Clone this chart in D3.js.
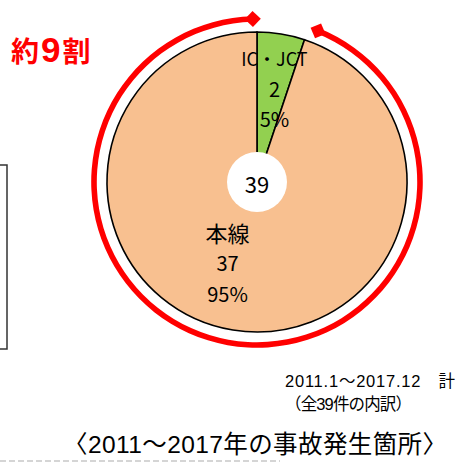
<!DOCTYPE html>
<html>
<head>
<meta charset="utf-8">
<script src="https://cdn.jsdelivr.net/npm/d3@7"></script>
<style>
  body { margin: 0; background: #fff; }
  svg { display: block; }
</style>
</head>
<body>
<div id="chart"></div>
<script>
// data
const categories = ['IC・JCT', '本線'];
const counts = [2, 37];
const percentLabels = ['5%', '95%'];
const total = 39;
const headlineParts = ['約', '9', '割'];
const noteLines = ['2011.1～2017.12\u3000計', '（全39件の内訳）'];
const title = '〈2011～2017年の事故発生箇所〉';

const colors = ['#92d050', '#f8c090'];

const width = 462, height = 462;
const cx = 257, cy = 182, radius = 150;

const svg = d3.select('#chart')
  .append('svg')
  .attr('width', width)
  .attr('height', height);

// box on the left edge (cut off)
svg.append('rect')
  .attr('x', -10).attr('y', 165)
  .attr('width', 17).attr('height', 184)
  .attr('fill', 'none')
  .attr('stroke', '#333')
  .attr('stroke-width', 1.5);

const ctr = svg.append('g')
  .attr('transform', `translate(${cx}, ${cy})`);

const pie = d3.pie().sort(null).value(d => d);
const arcs = pie(counts);

const arc = d3.arc().innerRadius(0).outerRadius(radius);

ctr.selectAll('path.slice')
  .data(arcs)
  .join('path')
  .attr('class', 'slice')
  .attr('d', arc)
  .attr('fill', (d, i) => colors[i])
  .attr('stroke', '#000')
  .attr('stroke-width', 1.6);

// red bracket arc around the main slice
const deg = Math.PI / 180;
const bracketStart = 22 * deg, bracketEnd = 358.5 * deg;
const bracketR = 163;
ctr.append('path')
  .attr('d', d3.arc()
    .innerRadius(bracketR - 2.8)
    .outerRadius(bracketR + 2.8)
    .startAngle(bracketStart)
    .endAngle(bracketEnd)())
  .attr('fill', '#ff0000');

[bracketStart, bracketEnd].forEach(a => {
  const x = bracketR * Math.sin(a), y = -bracketR * Math.cos(a);
  ctr.append('path')
    .attr('d', d3.symbol(d3.symbolSquare, 130)())
    .attr('transform', `translate(${x}, ${y}) rotate(${a / deg + 45})`)
    .attr('fill', '#ff0000');
});

// center hole
ctr.append('circle')
  .attr('cx', 0).attr('cy', 0).attr('r', 30)
  .attr('fill', '#fff');

ctr.append('text')
  .attr('x', 0).attr('y', 1)
  .attr('text-anchor', 'middle')
  .attr('dominant-baseline', 'central')
  .attr('font-family', '"Noto Sans CJK JP", sans-serif')
  .attr('font-size', 22)
  .text(total);

// slice labels
const labelArc = d3.arc().innerRadius(90).outerRadius(90);
const labelShift = [[3, -5], [-15, -8]];
const labels = ctr.selectAll('g.label')
  .data(arcs)
  .join('g')
  .attr('class', 'label')
  .attr('transform', (d, i) => {
    const [x, y] = labelArc.centroid(d);
    return `translate(${x + labelShift[i][0]}, ${y + labelShift[i][1]})`;
  });

labels.each(function(d, i) {
  const g = d3.select(this);
  const lines = [categories[i], counts[i], percentLabels[i]];
  g.selectAll('text')
    .data(lines)
    .join('text')
    .attr('x', 0)
    .attr('y', (t, j) => (j - 1) * 30.5)
    .attr('text-anchor', 'middle')
    .attr('dominant-baseline', 'central')
    .attr('font-family', '"Noto Sans CJK JP", sans-serif')
    .attr('font-size', (t, j) => j === 0 ? (i === 1 ? 22 : 18) : 20)
    .attr('fill', '#000')
    .text(t => t);
});

// headline
const head = svg.append('text')
  .attr('x', 11).attr('y', 62)
  .attr('font-weight', 'bold')
  .attr('fill', '#ff0000');
head.selectAll('tspan')
  .data(headlineParts)
  .join('tspan')
  .attr('dx', (d, i) => i === 0 ? 0 : 2)
  .attr('font-family', (d, i) => i === 1
    ? '"Liberation Sans", sans-serif'
    : '"Noto Sans CJK JP", sans-serif')
  .attr('font-size', (d, i) => i === 1 ? 35 : 28)
  .text(d => d);

// note
const noteWidths = [170, 127];
svg.selectAll('text.note')
  .data(noteLines)
  .join('text')
  .attr('class', 'note')
  .attr('x', 285)
  .attr('y', (d, i) => 387 + i * 23)
  .attr('font-family', '"Liberation Sans", "Noto Sans CJK JP", sans-serif')
  .attr('font-size', 16.5)
  .attr('fill', '#000')
  .attr('textLength', (d, i) => noteWidths[i])
  .attr('lengthAdjust', 'spacing')
  .text(d => d);

// title
svg.append('text')
  .attr('x', 63).attr('y', 453)
  .attr('font-family', '"Liberation Sans", "Noto Sans CJK JP", sans-serif')
  .attr('font-size', 24.5)
  .attr('fill', '#000')
  .attr('textLength', 384)
  .attr('lengthAdjust', 'spacing')
  .text(title);

// dashed separator at the bottom
svg.append('line')
  .attr('x1', 0).attr('x2', 280)
  .attr('y1', 461).attr('y2', 461)
  .attr('stroke', '#c8c8c8')
  .attr('stroke-width', 1.5)
  .attr('stroke-dasharray', '6,3');
</script>
</body>
</html>
